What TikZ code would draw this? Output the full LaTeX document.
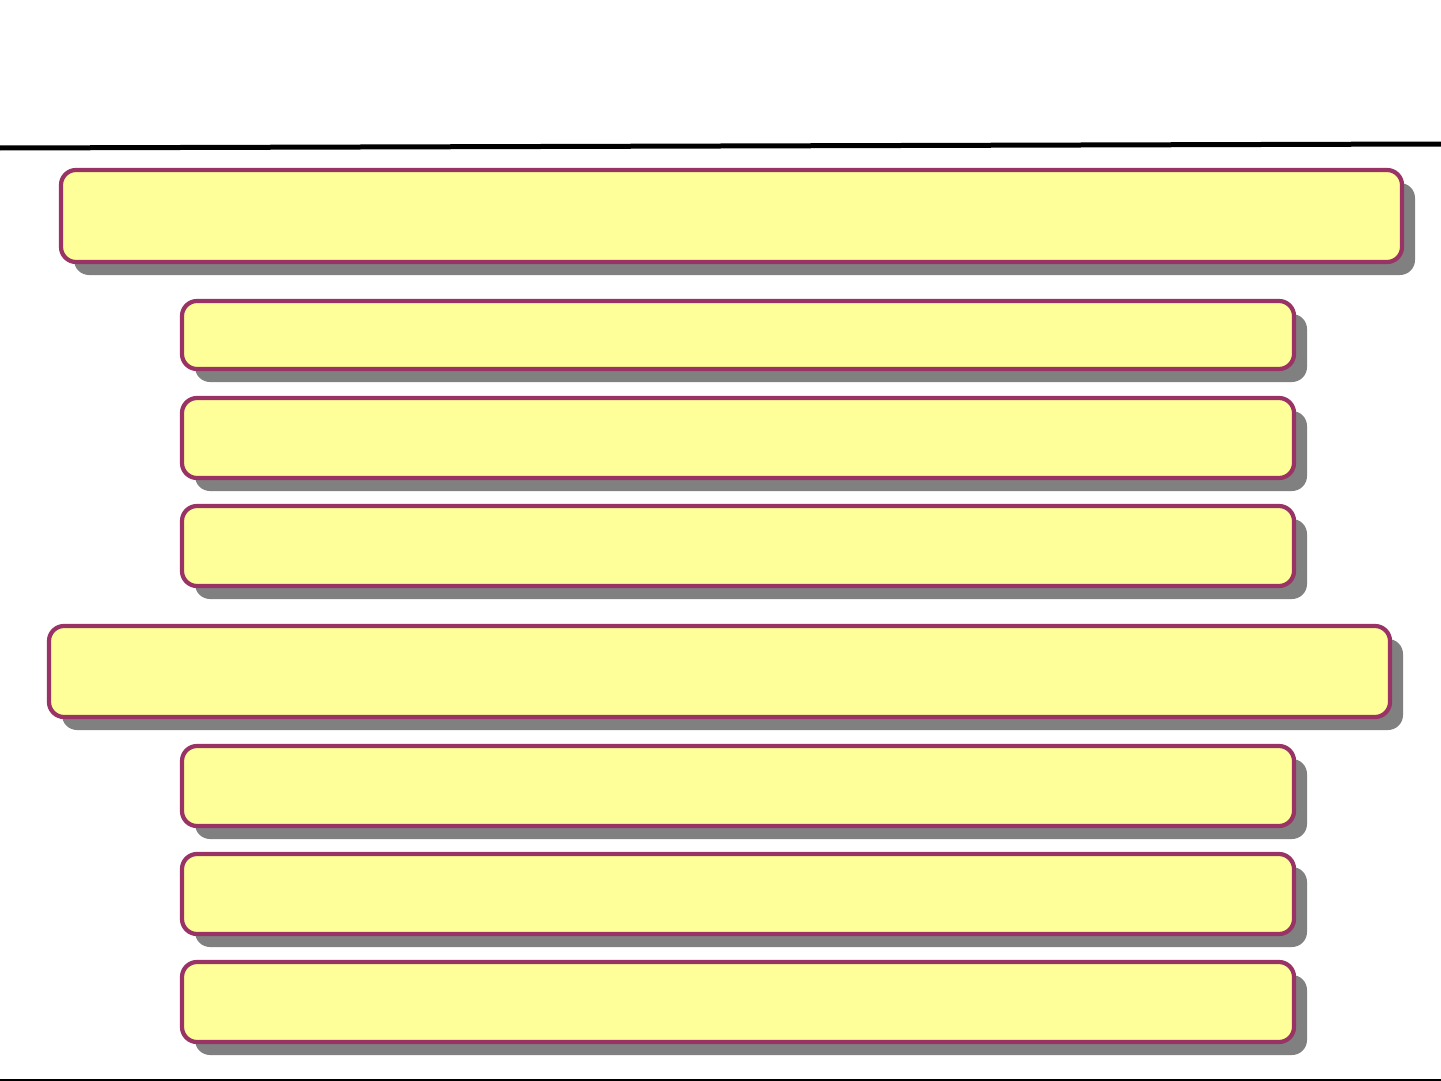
\documentclass[tikz,border=0pt]{standalone}
\usetikzlibrary{shadows}
\definecolor{boxfill}{HTML}{FFFF99}
\definecolor{boxline}{HTML}{993366}
\definecolor{shadowgray}{HTML}{808080}
\begin{document}
\begin{tikzpicture}[x=1pt,y=-1pt,
  slab/.style={draw=boxline, fill=boxfill, line width=4.2pt, rounded corners=15pt,
    inner sep=0pt, outer sep=0pt,
    drop shadow={shadow xshift=13pt, shadow yshift=-13pt, fill=shadowgray, opacity=1}},
  wide/.style={slab, minimum width=1341pt},
  narrow/.style={slab, minimum width=1112pt}]
\useasboundingbox[fill=white] (0,0) rectangle (1441,1081);
\coordinate (tl) at (0,148);
\coordinate (tr) at (1441,144);
\draw[line width=5pt] (tl) -- (tr);
\coordinate (bl) at (0,1080);
\coordinate (br) at (1441,1080);
\draw[line width=1.5pt] (bl) -- (br);
\node[wide, minimum height=92pt] (b1) at (731.5,216) {};
\node[narrow, minimum height=68pt] (b2) at (738,335) {};
\node[narrow, minimum height=80pt] (b3) at (738,438) {};
\node[narrow, minimum height=80pt] (b4) at (738,546) {};
\node[wide, minimum height=91pt] (b5) at (719.5,671.5) {};
\node[narrow, minimum height=80pt] (b6) at (738,786) {};
\node[narrow, minimum height=80pt] (b7) at (738,894) {};
\node[narrow, minimum height=80pt] (b8) at (738,1002) {};
\end{tikzpicture}
\end{document}
